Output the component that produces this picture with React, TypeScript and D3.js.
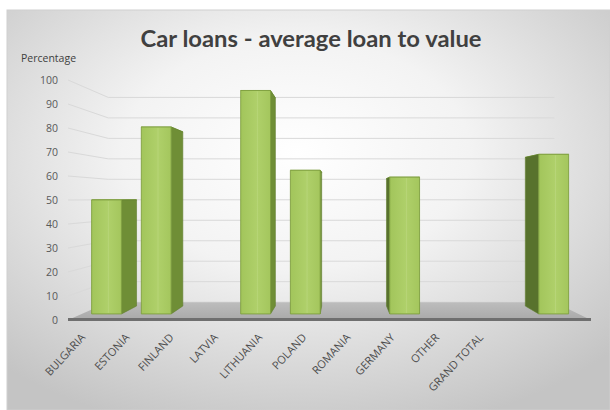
import React from 'react';
import * as d3 from 'd3';

const categories: string[] = ['BULGARIA', 'ESTONIA', 'FINLAND', 'LATVIA', 'LITHUANIA', 'POLAND', 'ROMANIA', 'GERMANY', 'OTHER', 'GRAND TOTAL'];
const loanToValue: (number | null)[] = [50, 82, null, 98, 63, null, 60, null, null, 70];
const yTicks: number[] = [0, 10, 20, 30, 40, 50, 60, 70, 80, 90, 100];
const chartTitle = 'Car loans - average loan to value';
const yAxisTitle = 'Percentage';

const W = 610;
const H = 410;
const VX = 342;
const VY = 198.6;
const S_WALL = 0.853;
const S_BAR_FRONT = 0.95;
const S_BAR_BACK = 0.885;

const x = d3.scaleBand<string>().domain(categories).range([68, 591]).paddingInner(0.4).paddingOuter(0.2);
const y = d3.scaleLinear().domain([0, 100]).range([320, 80]);
const labelX = d3.scalePoint<string>().domain(categories).range([86, 484]);

type Pt = [number, number];
const P = (px: number, py: number, s: number): Pt => [VX + (px - VX) * s, VY + (py - VY) * s];
const poly = (pts: Pt[]) => pts.map((p) => `${p[0].toFixed(2)},${p[1].toFixed(2)}`).join(' ');

const FONT = 'Lato, "Open Sans", sans-serif';
const FONT2 = '"Open Sans", Lato, sans-serif';

export default function App() {
  const [x0, x1] = x.range();
  const y0 = y(0);
  const floorTop = poly([P(x0, y0, 1), P(x1, y0, 1), P(x1, y0, S_WALL), P(x0, y0, S_WALL)]);
  const bw = x.bandwidth();

  return (
    <svg width={W} height={H} style={{ position: 'absolute', left: 0, top: 0, display: 'block' }}>
      <defs>
        <radialGradient id="bg" cx="48%" cy="36%" r="72%">
          <stop offset="0%" stopColor="#ffffff" />
          <stop offset="40%" stopColor="#f3f3f3" />
          <stop offset="100%" stopColor="#c4c4c4" />
        </radialGradient>
        <linearGradient id="floorG" x1="0" y1="0" x2="0" y2="1">
          <stop offset="0%" stopColor="#bdbdbd" />
          <stop offset="100%" stopColor="#a9a9a9" />
        </linearGradient>
        <linearGradient id="barFront" x1="0" y1="0" x2="1" y2="0">
          <stop offset="0%" stopColor="#a2c55b" />
          <stop offset="55%" stopColor="#afd06a" />
          <stop offset="100%" stopColor="#a4c65d" />
        </linearGradient>
      </defs>
      <rect x={0} y={0} width={W} height={H} fill="#ffffff" />
      <rect x={7} y={10} width={W - 7} height={H - 10} fill="url(#bg)" stroke="#cfcfcf" strokeWidth={1} />

      <text x={311} y={47} textAnchor="middle" fontFamily={FONT} fontWeight={700} fontSize={23}
        fill="#404040" textLength={341} lengthAdjust="spacingAndGlyphs">{chartTitle}</text>

      <text x={21} y={62} fontFamily={FONT2} fontSize={10.5} fill="#404040">{yAxisTitle}</text>

      {yTicks.map((t) => {
        const a = P(x0, y(t), 1);
        const b = P(x0, y(t), S_WALL);
        const c = P(x1, y(t), S_WALL);
        return (
          <g key={t}>
            <polyline points={poly([a, b, c])} fill="none" stroke="#d9d9d9" strokeWidth={1} />
            <text x={58} y={y(t)} dy="0.35em" textAnchor="end" fontFamily={FONT2} fontSize={10.5} fill="#595959">{t}</text>
          </g>
        );
      })}

      <polygon points={floorTop} fill="url(#floorG)" />
      <rect x={x0} y={y0 - 2} width={x1 - x0} height={3} fill="#6f6f6f" />

      {categories.map((cat, i) => {
        const v = loanToValue[i];
        if (v == null) return null;
        const xl = x(cat)!;
        const xr = xl + bw;
        const yt = y(v);
        const cx = xl + bw / 2;
        const front = [P(xl, yt, S_BAR_FRONT), P(xr, yt, S_BAR_FRONT), P(xr, y0, S_BAR_FRONT), P(xl, y0, S_BAR_FRONT)];
        const top = [P(xl, yt, S_BAR_FRONT), P(xr, yt, S_BAR_FRONT), P(xr, yt, S_BAR_BACK), P(xl, yt, S_BAR_BACK)];
        const sx = cx < VX ? xr : xl;
        const side = [P(sx, yt, S_BAR_FRONT), P(sx, yt, S_BAR_BACK), P(sx, y0, S_BAR_BACK), P(sx, y0, S_BAR_FRONT)];
        const hl = xl + bw * 0.56;
        const h1 = P(hl, yt, S_BAR_FRONT);
        const h2 = P(hl, y0, S_BAR_FRONT);
        return (
          <g key={cat}>
            <polygon points={poly(top)} fill="#b7d474" stroke="#7f9f3f" strokeWidth={0.8} />
            <polygon points={poly(side)} fill={cx < VX ? '#6f8e36' : '#58722d'} stroke="#5f7d2e" strokeWidth={0.6} />
            <polygon points={poly(front)} fill="url(#barFront)" stroke="#7f9f3f" strokeWidth={0.9} />
            <line x1={h1[0]} y1={h1[1] + 1} x2={h2[0]} y2={h2[1] - 1} stroke="#bcd982" strokeWidth={0.8} opacity={0.8} />
          </g>
        );
      })}

      {categories.map((cat) => (
        <text key={cat} transform={`translate(${labelX(cat)},338) rotate(-47)`} textAnchor="end"
          fontFamily={FONT2} fontSize={11} fill="#4d4d4d">{cat}</text>
      ))}
    </svg>
  );
}
